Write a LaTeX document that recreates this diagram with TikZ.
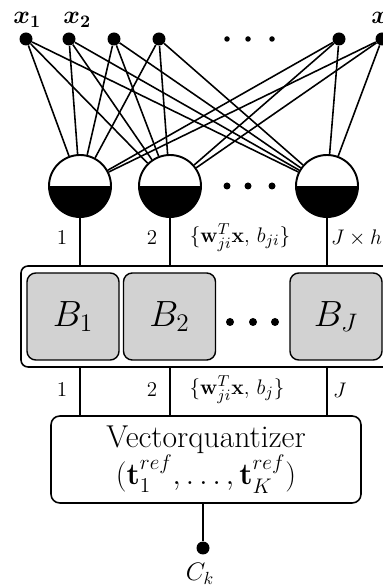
\documentclass[tikz,border=0pt]{standalone}
\usepackage{amsmath, amssymb}
\usepackage{tikz}
\usetikzlibrary{positioning, calc}
\tikzset{
    inp/.style = {circle, fill=black, inner sep=0pt, minimum size=0.26cm},
    dotsm/.style = {circle, fill=black, inner sep=0pt, minimum size=0.14cm},
    neuron/.style = {circle, draw=black, line width=1.1pt, minimum size=1.24cm, inner sep=0pt,
        path picture={\fill[black] (path picture bounding box.west) rectangle (path picture bounding box.south east);}},
    group/.style = {rectangle, rounded corners=4pt, draw=black, line width=0.9pt, inner sep=0pt},
    block/.style = {rectangle, rounded corners=5pt, draw=black, fill=gray!35, line width=0.8pt, inner sep=0pt,
        minimum width=1.84cm, minimum height=1.74cm, font=\fontsize{22}{24}\selectfont},
    vq/.style = {rectangle, rounded corners=5pt, draw=black, line width=0.9pt, align=center,
        minimum width=6.2cm, minimum height=1.74cm, font=\fontsize{18}{18}\selectfont},
    lbl/.style = {font=\fontsize{13}{15}\selectfont, inner sep=1pt},
    xlbl/.style = {font=\fontsize{14}{16}\selectfont\boldmath, inner sep=0pt},
    wire/.style = {line width=0.9pt}
}

\begin{document}
\begin{tikzpicture}[node distance=0.3cm]
        \useasboundingbox (0,0) rectangle (7.66,11.74);

        % Stage 1: Input features
        \node (x1) [inp] at (0.52,10.96) {};
        \node (x2) [inp] at (1.38,10.96) {};
        \node (x3) [inp] at (2.28,10.96) {};
        \node (x4) [inp] at (3.18,10.96) {};
        \node (x5) [inp] at (6.78,10.96) {};
        \node (x6) [inp] at (7.64,10.96) {};
        \foreach \x [count=\k] in {4.54,4.96,5.44}
            \node (idot\k) [dotsm, minimum size=0.11cm] at (\x,10.96) {};

        \node (lx1) [xlbl, anchor=base west] at (0.26,11.26) {$x_1$};
        \node (lx2) [xlbl, anchor=base west] at (1.26,11.26) {$x_2$};
        \node (lxn) [xlbl, anchor=base west] at (7.42,11.26) {$x_n$};

        % Stage 2: Hidden units
        \node (n1) [neuron] at (1.60,8.02) {};
        \node (n2) [neuron] at (3.40,8.02) {};
        \node (nJ) [neuron] at (6.54,8.02) {};
        \foreach \x [count=\k] in {4.54,4.96,5.44}
            \node (ndot\k) [dotsm] at (\x,8.02) {};

        % Full connections
        \foreach \i in {x1,x2,x3,x4,x5,x6}
            \foreach \j in {n1,n2,nJ}
                \draw [wire] (\i) -- (\j);

        % Stage 3: Blocks
        \node (grp) [group, minimum width=7.38cm, minimum height=2.02cm] at (4.11,5.41) {};
        \node (b1) [block] at (1.46,5.41) {$B_1$};
        \node (b2) [block] at (3.39,5.41) {$B_2$};
        \node (bJ) [block] at (6.72,5.41) {$B_J$};
        \foreach \x [count=\k] in {4.60,5.06,5.50}
            \node (bdot\k) [dotsm, minimum size=0.16cm] at (\x,5.30) {};

        \draw [wire] (n1) -- (n1 |- grp.north);
        \draw [wire] (n2) -- (n2 |- grp.north);
        \draw [wire] (nJ) -- (nJ |- grp.north);

        \node (u1) [lbl] at (1.24,6.98) {$1$};
        \node (u2) [lbl] at (3.04,6.98) {$2$};
        \node (uw) [lbl] at (4.80,6.98) {$\{\mathbf{w}_{ji}^T\mathbf{x},\, b_{ji}\}$};
        \node (uJ) [lbl, anchor=west] at (6.58,6.98) {$J\times h$};

        % Stage 4: Vector quantizer
        \node (vq) [vq] at (4.12,2.55) {Vectorquantizer\\$(\mathbf{t}_1^{ref},\ldots,\mathbf{t}_K^{ref})$};

        \draw [wire] (n1 |- grp.south) -- (n1 |- vq.north);
        \draw [wire] (n2 |- grp.south) -- (n2 |- vq.north);
        \draw [wire] (nJ |- grp.south) -- (nJ |- vq.north);

        \node (l1) [lbl] at (1.24,3.94) {$1$};
        \node (l2) [lbl] at (3.04,3.94) {$2$};
        \node (lw) [lbl] at (4.74,3.94) {$\{\mathbf{w}_{ji}^T\mathbf{x},\, b_j\}$};
        \node (lJ) [lbl, anchor=west] at (6.62,3.94) {$J$};

        % Stage 5: Output class
        \node (ck) [inp] at (4.06,0.78) {};
        \draw [wire] (ck |- vq.south) -- (ck);
        \node (lck) [lbl, font=\fontsize{14}{16}\selectfont] at (4.00,0.27) {$C_k$};
    \end{tikzpicture}
\end{document}
